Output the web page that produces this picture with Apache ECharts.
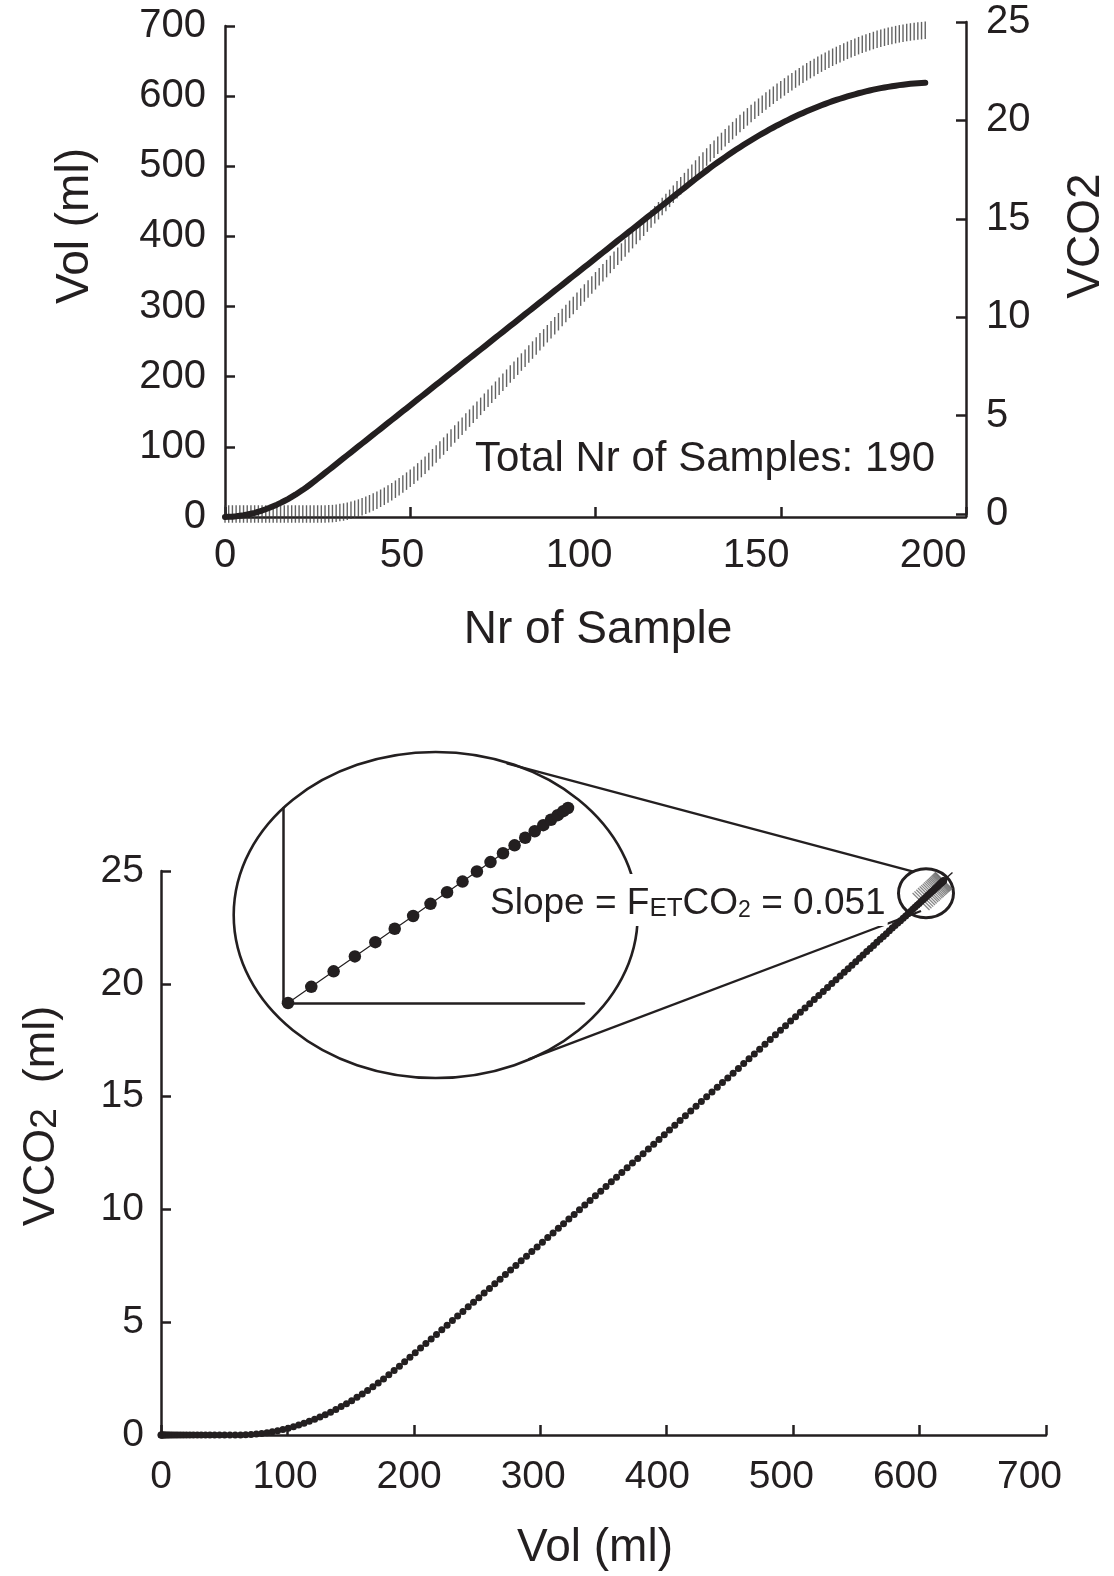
<!DOCTYPE html>
<html><head><meta charset="utf-8">
<script src="https://cdn.jsdelivr.net/npm/echarts@6/dist/echarts.min.js"></script>
<style>html,body{margin:0;padding:0;background:#fff}#c{width:1114px;height:1576px}</style>
</head><body><div id="c"></div>
<script>
// Expired volume (ml) per sample (sample number = index)
const vol = [
0,0.2,0.5,1.0,1.7,2.5,3.5,4.7,6.0,7.5,9.2,11.1,13.1,15.3,17.6,20.1,22.8,25.6,28.7,31.8,35.2,38.7,42.4,46.3,50.3,54.5,
58.7,62.9,67.0,71.2,75.4,79.6,83.8,88.0,92.2,96.4,
100.6,104.8,108.9,113.1,117.3,121.5,125.7,129.9,134.1,138.3,
142.5,146.7,150.8,155.0,159.2,163.4,167.6,171.8,176.0,180.2,
184.4,188.6,192.7,196.9,201.1,205.3,209.5,213.7,217.9,222.1,
226.3,230.5,234.6,238.8,243.0,247.2,251.4,255.6,259.8,264.0,
268.2,272.4,276.5,280.7,284.9,289.1,293.3,297.5,301.7,305.9,
310.1,314.3,318.4,322.6,326.8,331.0,335.2,339.4,343.6,347.8,
352.0,356.2,360.3,364.5,368.7,372.9,377.1,381.3,385.5,389.7,
393.9,398.1,402.2,406.4,410.6,414.8,419.0,423.2,427.4,431.6,
435.8,440.0,444.1,448.3,452.5,456.7,460.9,465.1,469.3,473.5,
477.7,481.9,
486.0,490.0,494.0,498.0,501.9,505.7,509.4,513.1,516.7,520.3,
523.8,527.2,530.6,533.9,537.2,540.4,543.5,546.5,549.5,552.5,
555.3,558.2,560.9,563.6,566.2,568.8,571.3,573.7,576.1,578.4,
580.6,582.8,584.9,587.0,589.0,590.9,592.8,594.6,596.3,598.0,
599.6,601.18,602.67,604.10,605.46,606.77,608.01,609.19,610.30,611.36,
612.35,613.27,614.14,614.94,615.68,616.36,616.97,617.52,618.01,618.44,
618.80,619.10
];
// Cumulative VCO2 (ml) per sample
const vco2 = [
0,0,0,0,0,0,0,0,0,0,0,0,0,0,0,0,0,0,0,0,0,0,0,0,0,0,0,
0.00,0.01,0.02,0.04,0.07,0.10,0.14,0.19,0.24,0.30,0.37,0.44,0.52,0.61,0.70,0.80,0.90,1.01,1.13,1.26,1.39,1.52,1.67,1.82,1.97,2.14,2.31,2.48,2.67,2.86,3.05,
3.25,3.45,3.65,3.86,4.06,4.26,4.46,4.67,4.87,5.07,5.27,5.47,5.68,5.88,6.08,6.29,6.49,6.70,6.90,7.11,7.31,7.51,7.72,7.92,8.13,8.33,8.54,8.75,8.95,9.16,9.36,9.57,9.77,9.98,
10.19,10.40,10.60,10.81,11.02,11.23,11.43,11.64,11.85,12.06,12.26,12.47,12.68,12.89,13.10,13.31,13.52,13.73,13.94,14.15,14.36,14.57,14.78,14.99,15.20,15.41,15.62,15.83,16.04,16.25,
16.47,16.68,16.89,17.10,17.32,17.53,17.74,17.94,18.14,18.35,18.54,18.74,18.93,19.12,19.30,19.48,19.66,19.84,20.01,20.18,20.35,20.51,20.67,20.82,20.98,21.13,21.28,21.43,21.56,21.70,
21.84,21.97,22.10,22.22,22.35,22.47,22.58,22.69,22.80,22.91,23.01,23.11,23.21,23.30,23.39,23.48,23.56,
23.645,23.722,23.796,23.867,23.935,23.999,24.060,24.118,24.173,24.224,24.272,24.317,24.359,24.397,24.433,24.464,24.493,24.519,24.541,24.560,24.575
];
// Phase III slope line (FetCO2 = 0.051), endpoints [Vol, VCO2]
const slopeLine = [[590, 23.10], [626, 24.93]];
// first sample shown in the magnified inset
const insetFrom = 169;
const totalSamples = 190;

const INK = '#231f20';
const FONT = '"Liberation Sans", Arial, Helvetica, sans-serif';
const chart = echarts.init(document.getElementById('c'), null, {renderer: 'canvas', width: 1114, height: 1576});

const line = {show: true, onZero: false, lineStyle: {color: INK, width: 2.5}};
const tick = {show: true, inside: true, length: 10, lineStyle: {color: INK, width: 2.5}};
const noLbl = {show: false};
const lbl = (size, margin, step, maxv) => ({show: true, fontSize: size, fontFamily: FONT, color: INK, margin: margin,
  formatter: v => (Math.abs(v % step) < 1e-9 && v <= maxv + 1e-9) ? String(v) : ''});

const topVol = vol.map((v, i) => [i, v]);
const topCO2 = vco2.map((v, i) => [i, v]);
const loop = vol.map((v, i) => [v, vco2[i]]);
const inset = loop.slice(insetFrom);

chart.setOption({
  animation: false,
  backgroundColor: '#fff',
  grid: [
    {left: 225, top: 26, width: 741, height: 491},
    {left: 225, top: 22, width: 741, height: 492},
    {left: 161, top: 871, width: 885, height: 564},
    {left: 283, top: 808, width: 301, height: 195}
  ],
  xAxis: [
    {gridIndex: 0, type: 'value', min: 0, max: 200, interval: 50, axisLine: line, axisTick: tick, axisLabel: noLbl, splitLine: {show: false}},
    {gridIndex: 0, type: 'value', position: 'bottom', offset: 0, min: 0, max: 209.3, interval: 50, axisLine: {show: false}, axisTick: {show: false}, axisLabel: lbl(40, 19, 50, 200), splitLine: {show: false}},
    {gridIndex: 1, type: 'value', show: false, min: 0, max: 200},
    {gridIndex: 2, type: 'value', min: 0, max: 700, interval: 100, axisLine: line, axisTick: tick, axisLabel: noLbl, splitLine: {show: false}},
    {gridIndex: 2, type: 'value', position: 'bottom', offset: 0, min: 0, max: 713.3, interval: 100, axisLine: {show: false}, axisTick: {show: false}, axisLabel: lbl(39, 23, 100, 700), splitLine: {show: false}},
    {gridIndex: 3, type: 'value', min: 600.86, max: 620.124, axisLine: line, axisTick: {show: false}, axisLabel: noLbl, splitLine: {show: false}}
  ],
  yAxis: [
    {gridIndex: 0, type: 'value', position: 'left', min: 0, max: 700, interval: 100, axisLine: line, axisTick: tick, axisLabel: lbl(40, 19, 100, 700), splitLine: {show: false}},
    {gridIndex: 1, type: 'value', position: 'right', min: 0, max: 25, interval: 5, axisLine: line, axisTick: tick, axisLabel: lbl(40, 20, 5, 25), splitLine: {show: false}},
    {gridIndex: 2, type: 'value', position: 'left', min: 0, max: 25, interval: 5, axisLine: line, axisTick: tick, axisLabel: lbl(39, 17, 5, 25), splitLine: {show: false}},
    {gridIndex: 3, type: 'value', min: 23.645, max: 24.575, axisLine: line, axisTick: {show: false}, axisLabel: noLbl, splitLine: {show: false}}
  ],
  series: [
    {type: 'scatter', xAxisIndex: 2, yAxisIndex: 1, data: topCO2, symbol: 'rect', symbolSize: [1.4, 17.5],
     itemStyle: {color: '#3c3c3c'}, silent: true, z: 2},
    {type: 'line', xAxisIndex: 0, yAxisIndex: 0, data: topVol, showSymbol: false,
     lineStyle: {color: INK, width: 6, cap: 'round', join: 'round'}, silent: true, z: 3},
    {type: 'scatter', xAxisIndex: 3, yAxisIndex: 2, data: inset, symbol: 'rect', symbolSize: [1.3, 24], symbolRotate: 45,
     itemStyle: {color: '#6a6a6a'}, silent: true, z: 2},
    {type: 'line', xAxisIndex: 3, yAxisIndex: 2, data: loop, symbol: 'circle', symbolSize: 7, showAllSymbol: true,
     lineStyle: {color: INK, width: 1.2}, itemStyle: {color: INK}, silent: true, z: 3},
    {type: 'line', xAxisIndex: 3, yAxisIndex: 2, data: slopeLine, showSymbol: false,
     lineStyle: {color: INK, width: 1.4}, silent: true, z: 4},
    {type: 'line', xAxisIndex: 5, yAxisIndex: 3, data: inset, symbol: 'circle', symbolSize: 12.5, showAllSymbol: true,
     lineStyle: {color: INK, width: 1.2}, itemStyle: {color: INK}, silent: true, z: 3}
  ],
  graphic: [
    {type: 'ellipse', z: 1, shape: {cx: 435.7, cy: 915, rx: 202, ry: 163}, style: {fill: 'none', stroke: INK, lineWidth: 2.6}},
    {type: 'ellipse', z: 1, shape: {cx: 926, cy: 893.3, rx: 27.5, ry: 24.5}, style: {fill: 'none', stroke: INK, lineWidth: 3}},
    {type: 'line', z: 1, shape: {x1: 506.7, y1: 763.3, x2: 913.3, y2: 871.7}, style: {stroke: INK, lineWidth: 2.4}},
    {type: 'line', z: 1, shape: {x1: 528.3, y1: 1059.3, x2: 921, y2: 911}, style: {stroke: INK, lineWidth: 2.4}},
    {type: 'text', z: 5, x: 488, y: 900, style: {
      text: '{a|Slope = F}{s|ET}{a|CO}{sub|2}{a| = 0.051}', textAlign: 'left', textVerticalAlign: 'middle',
      backgroundColor: '#fff', padding: [4, 2],
      rich: {
        a: {fontSize: 37, fontFamily: FONT, fill: INK, color: INK, lineHeight: 44, verticalAlign: 'bottom'},
        s: {fontSize: 26, fontFamily: FONT, fill: INK, color: INK, lineHeight: 36, verticalAlign: 'bottom'},
        sub: {fontSize: 23, fontFamily: FONT, fill: INK, color: INK, lineHeight: 16, verticalAlign: 'bottom'}
      }}},
    {type: 'text', z: 5, x: 935, y: 459, style: {text: 'Total Nr of Samples: ' + totalSamples, font: '42px ' + FONT, fill: INK, textAlign: 'right', textVerticalAlign: 'middle'}},
    {type: 'text', z: 5, x: 598, y: 630, style: {text: 'Nr of Sample', font: '46px ' + FONT, fill: INK, textAlign: 'center', textVerticalAlign: 'middle'}},
    {type: 'text', z: 5, x: 595, y: 1548, style: {text: 'Vol (ml)', font: '46px ' + FONT, fill: INK, textAlign: 'center', textVerticalAlign: 'middle'}},
    {type: 'text', z: 5, x: 75, y: 226, rotation: Math.PI / 2, style: {text: 'Vol (ml)', font: '46px ' + FONT, fill: INK, textAlign: 'center', textVerticalAlign: 'middle'}},
    {type: 'text', z: 5, x: 1086, y: 236, rotation: Math.PI / 2, style: {text: 'VCO2', font: '46px ' + FONT, fill: INK, textAlign: 'center', textVerticalAlign: 'middle'}},
    {type: 'text', z: 5, x: 37, y: 1116, rotation: Math.PI / 2, style: {
      text: '{a|VCO}{sub|2}{a|  (ml)}', textAlign: 'center', textVerticalAlign: 'middle',
      rich: {
        a: {fontSize: 45, fontFamily: FONT, fill: INK, color: INK, lineHeight: 54, verticalAlign: 'bottom'},
        sub: {fontSize: 37, fontFamily: FONT, fill: INK, color: INK, lineHeight: 26, verticalAlign: 'bottom'}
      }}}
  ]
});
</script></body></html>
